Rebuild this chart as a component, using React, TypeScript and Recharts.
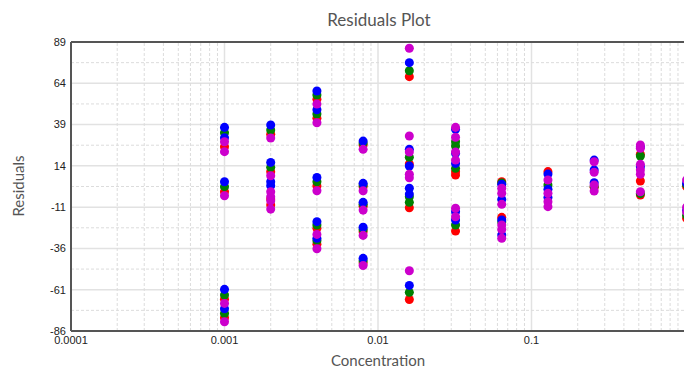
import React from "react";
import {
  ScatterChart,
  Scatter,
  XAxis,
  YAxis,
  ZAxis,
  CartesianGrid,
  ReferenceLine,
} from "recharts";

// ── Data ────────────────────────────────────────────────────────

const concentrations = [0.001, 0.002, 0.004, 0.008, 0.016, 0.032, 0.064, 0.128, 0.256, 0.512, 1.024];

// residuals per concentration, one inner list per concentration
const blueResiduals = [
  [37.3, 31, 4.4, -60.8, -72.5],
  [38.7, 16.1, 4.4, 2.0],
  [59.3, 48, 7.0, -19.8, -29.9],
  [29, 3.4, -8.1, -23.2, -42],
  [76.5, 24, 13.9, 0.4, -3.1, -58.4],
  [36.1, 21.6, 15.5, -13.8, -18.8],
  [2.8, -6.3, -18.8, -27.9],
  [9, -0.2, -5.1],
  [17.5, 11.5, 3.8],
  [25.5, 13.5],
  [3.5, -13],
];

const greenResiduals = [
  [34.1, 1.4, -64.2, -75.4],
  [35.7, 13.1],
  [56.9, 45.4, 4.4, -21.8, -31.3],
  [27.8, 2.4, -9.3, -24.5, -43.4],
  [71.6, 19.2, -4.7, -8.1, -62.6],
  [28.6, 26, 12.5, -21.8],
  [3.6, -20],
  [2.4],
  [1.5],
  [20, -2.7],
  [2.5, -16],
];

const redResiduals = [
  [25.6, -1.7, -66.7, -78],
  [33.1, 10.5, -6, -9.7],
  [54.3, 42.8, 1.8, -23.8, -33.4],
  [26.6, 1.4, -10.5, -25.9, -44.8],
  [68, 15.1, -11.4, -66.9],
  [10.5, 8.4, -25.5],
  [4.4, -17.2],
  [10.5],
  [1],
  [21, 4.8, -3.7],
  [1.4, -17.8],
];

const magentaResiduals = [
  [28.6, 22.6, -4.1, -69.3, -80.4],
  [30.9, 8.0, -1.7, -4.7, -7.2, -12.2],
  [51.4, 40.1, -1.1, -27.5, -36.2],
  [24, -1.1, -12.8, -28.1, -46.3],
  [85.2, 32.1, 22.4, 8.9, 6.8, -49.5],
  [37.3, 31.3, 22.4, 17.5, -11.7, -16.8],
  [0.4, -2.6, -9.3, -21.8, -24.5, -29.9],
  [5.4, -2.6, -7.7, -10.7],
  [16.5, 10.1, 2.4, -1.2],
  [26.6, 24.6, 14.9, 11.5, 8.9, -1.7],
  [5.4, -11.1, -14],
];

const xTicks = [0.0001, 0.001, 0.01, 0.1];
const xTickLabels = ["0.0001", "0.001", "0.01", "0.1"];
const yTicks = [-86, -61, -36, -11, 14, 39, 64, 89];
const yMinorGrid = [-73.5, -48.5, -23.5, 1.5, 26.5, 51.5, 76.5];
const xDecades = [0.0001, 0.001, 0.01, 0.1];
const xMinorSteps = [2, 3, 4, 5, 6, 7, 8, 9];

const toPoints = (vals: number[][]) =>
  concentrations.flatMap((c, i) => vals[i].map((v) => ({ x: c, y: v })));

const series = [
  { name: "red", color: "#ff0000", data: toPoints(redResiduals) },
  { name: "green", color: "#008000", data: toPoints(greenResiduals) },
  { name: "blue", color: "#0000ff", data: toPoints(blueResiduals) },
  { name: "magenta", color: "#cc00cc", data: toPoints(magentaResiduals) },
];

const xMinor = xDecades.flatMap((d) => xMinorSteps.map((m) => d * m));

const tickStyle = { fill: "#222", fontSize: 11, fontFamily: "Liberation Sans, Arial, sans-serif" };
const labelFont = "Lato, 'Open Sans', sans-serif";

export default function App() {
  return (
    <div
      style={{
        position: "fixed",
        left: 0,
        top: 0,
        width: 684,
        height: 368,
        overflow: "hidden",
        background: "#fff",
      }}
    >
      <div
        style={{
          position: "absolute",
          top: 9,
          left: 0,
          width: 758,
          textAlign: "center",
          fontFamily: labelFont,
          fontSize: 17,
          color: "#555",
        }}
      >
        Residuals Plot
      </div>
      <div
        style={{
          position: "absolute",
          top: 351,
          left: 0,
          width: 756,
          textAlign: "center",
          fontFamily: labelFont,
          fontSize: 15,
          color: "#555",
        }}
      >
        Concentration
      </div>
      <div
        style={{
          position: "absolute",
          left: 18,
          top: 186,
          transform: "translate(-50%, -50%) rotate(-90deg)",
          fontFamily: labelFont,
          fontSize: 15,
          color: "#555",
          whiteSpace: "nowrap",
        }}
      >
        Residuals
      </div>
      <ScatterChart
        width={720}
        height={368}
        margin={{ top: 42, right: 35, left: 0, bottom: 7 }}
        style={{ position: "absolute", left: 0, top: 0 }}
      >
        <CartesianGrid stroke="#e2e2e2" strokeWidth={1.5} />
        {xMinor.map((v) => (
          <ReferenceLine key={"x" + v} x={v} stroke="#dcdcdc" strokeDasharray="3 2" />
        ))}
        {yMinorGrid.map((v) => (
          <ReferenceLine key={"y" + v} y={v} stroke="#dcdcdc" strokeDasharray="3 2" />
        ))}
        <ReferenceLine y={89} stroke="#555" strokeWidth={2} />
        <XAxis
          dataKey="x"
          type="number"
          scale="log"
          domain={[0.0001, 1]}
          allowDataOverflow
          ticks={xTicks}
          interval={0}
          tickFormatter={(v: number) => xTickLabels[xTicks.indexOf(v)] ?? String(v)}
          tick={tickStyle}
          tickLine={false}
          tickSize={3}
          tickMargin={2}
          height={30}
          axisLine={{ stroke: "#555", strokeWidth: 2 }}
        />
        <YAxis
          dataKey="y"
          type="number"
          domain={[-86, 89]}
          ticks={yTicks}
          interval={0}
          tick={tickStyle}
          tickLine={false}
          tickSize={3}
          tickMargin={2}
          width={71}
          axisLine={{ stroke: "#555", strokeWidth: 2 }}
        />
        <ZAxis range={[52, 52]} />
        {series.map((s) => (
          <Scatter
            key={s.name}
            name={s.name}
            data={s.data}
            fill={s.color}
            isAnimationActive={false}
          />
        ))}
      </ScatterChart>
    </div>
  );
}
